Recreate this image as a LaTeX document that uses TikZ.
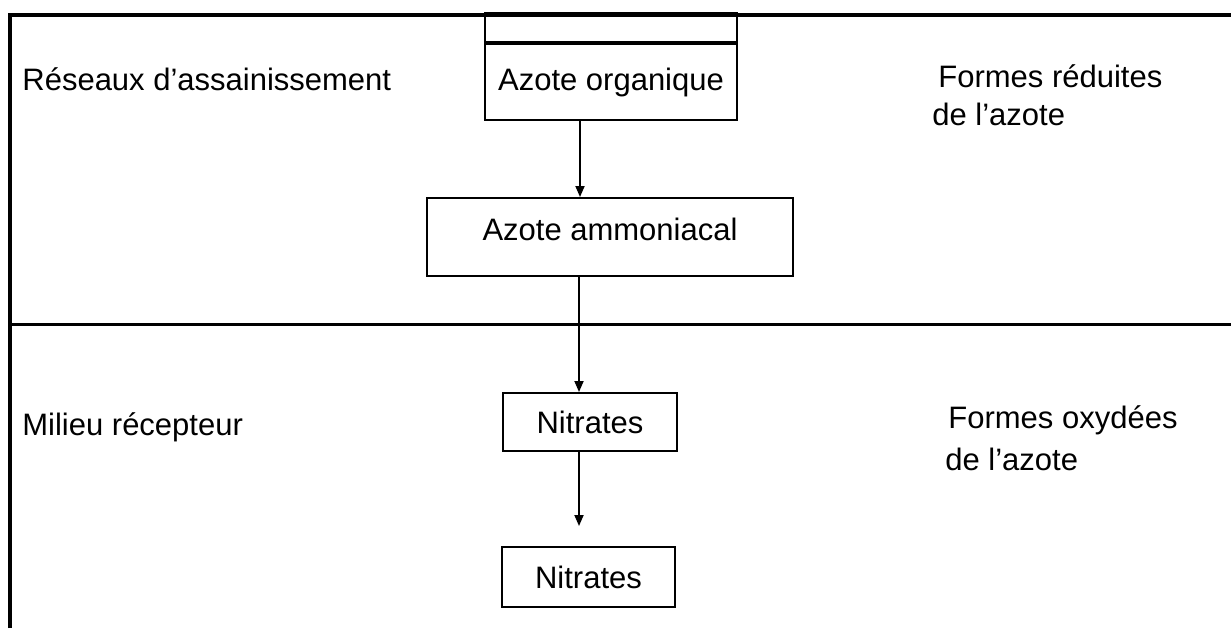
\documentclass[tikz,border=0pt]{standalone}
\usepackage{fontspec}
\setmainfont{Liberation Sans}
\usetikzlibrary{positioning, arrows.meta}

\begin{document}
\begin{tikzpicture}[
    x=0.5pt, y=-0.5pt,
    % Styles
    txt/.style={
        font=\fontsize{15.5}{19}\selectfont,
        inner sep=0pt,
        anchor=base west
    },
    cell/.style={
        rectangle,
        draw,
        line width=1pt,
        font=\fontsize{15.5}{19}\selectfont,
        inner sep=0pt
    },
    frame/.style={
        line width=2pt
    },
    divider/.style={
        line width=1.5pt
    },
    arrow/.style={
        -{Triangle[width=4.5pt,length=5.5pt]},
        line width=0.9pt
    }
]
    \useasboundingbox (0,0) rectangle (1231,628);

    % Frame
    \coordinate (corner) at (10,15);
    \coordinate (midleft) at (10,324);
    \draw[frame] (10,628) -- (corner) -- (1231,15);
    \draw[divider] (midleft) -- (1231,324);

    % Boxes
    \node[cell, minimum width=126pt, minimum height=38pt] (orga) at (611,82) {Azote organique};
    \node[cell, minimum width=126pt, minimum height=14.5pt, above=0pt of orga] (orgahead) {};
    \node[cell, minimum width=183pt, minimum height=39pt, text height=11pt, text depth=8pt] (ammo) at (610,237) {Azote ammoniacal};
    \node[cell, minimum width=87pt, minimum height=29pt] (nit1) at (590,422) {Nitrates};
    \node[cell, minimum width=86.5pt, minimum height=30pt] (nit2) at (588.5,577) {Nitrates};

    % Labels
    \node[txt] (reseaux) at (22,90) {Réseaux d’assainissement};
    \node[txt] (reduitA) at (938,87) {Formes réduites};
    \node[txt] (reduitB) at (932,125) {de l’azote};
    \node[txt] (milieu) at (22,435) {Milieu récepteur};
    \node[txt] (oxydeA) at (948,428) {Formes oxydées};
    \node[txt] (oxydeB) at (945,470) {de l’azote};

    % Paths
    \draw[arrow] ([xshift=-15.5pt]orga.south) -- ([xshift=-15pt]ammo.north);
    \draw[arrow] ([xshift=-15.5pt]ammo.south) -- ([xshift=-5.5pt]nit1.north);
    \draw[arrow, shorten >=10pt] ([xshift=-5.5pt]nit1.south) -- ([xshift=-4.75pt]nit2.north);
\end{tikzpicture}
\end{document}
